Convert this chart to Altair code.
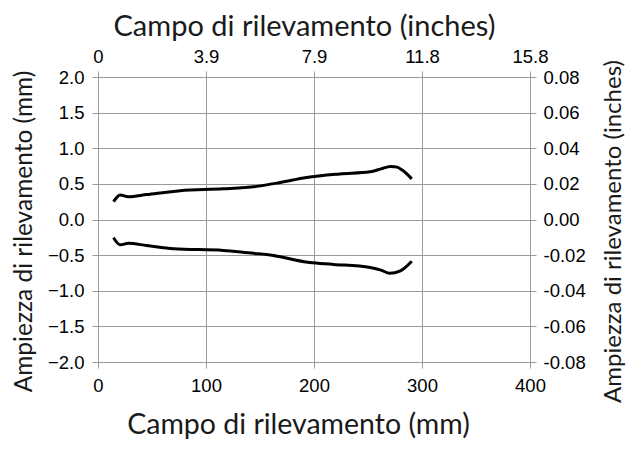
import altair as alt
import pandas as pd

# Upper envelope (mm)
upper_x = [14.4, 20.6, 28, 45, 76, 116, 147, 169, 193, 224, 252, 262, 271, 277, 282, 290.5]
upper_y = [0.25, 0.345, 0.32, 0.35, 0.405, 0.43, 0.465, 0.52, 0.59, 0.64, 0.67, 0.71, 0.745, 0.735, 0.69, 0.57]
# Lower envelope (mm)
lower_x = [14.4, 20.6, 28, 45, 70, 116, 144, 156, 196, 218, 252, 262, 270, 280, 290.5]
lower_y = [-0.255, -0.355, -0.335, -0.365, -0.41, -0.435, -0.475, -0.49, -0.605, -0.63, -0.675, -0.71, -0.755, -0.72, -0.585]

x_ticks = [0, 100, 200, 300, 400]
y_ticks = [-2.0, -1.5, -1.0, -0.5, 0.0, 0.5, 1.0, 1.5, 2.0]
top_labels = ["0", "3.9", "7.9", "11.8", "15.8"]
right_labels = ["-0.08", "-0.06", "-0.04", "-0.02", "0.00", "0.02", "0.04", "0.06", "0.08"]

up = pd.DataFrame({"x": upper_x, "y": upper_y})
lo = pd.DataFrame({"x": lower_x, "y": lower_y})


def mapexpr(vals, labels):
    e = "''"
    for v, l in zip(reversed(vals), reversed(labels)):
        e = f"abs(datum.value - ({v})) < 0.001 ? '{l}' : ({e})"
    return e


GRAY = "#9a9a9a"
LABEL_FONT = "Liberation Sans"
TITLE_FONT = "Lato"

common_axis = dict(
    domainColor=GRAY, tickColor=GRAY, gridColor=GRAY, gridWidth=1,
    tickSize=6, labelFont=LABEL_FONT, labelFontSize=18.5, labelColor="black",
    labelFlush=False,
    titleFont=TITLE_FONT, titleFontWeight="normal", titleColor="#1a1a1a",
    titleAlign="center",
)

xscale = alt.Scale(domain=[0, 400], nice=False, zero=False)
yscale = alt.Scale(domain=[-2, 2], nice=False)

upper = alt.Chart(up).mark_line(color="black", strokeWidth=3, interpolate="monotone").encode(
    x=alt.X("x:Q", scale=xscale, axis=alt.Axis(
        orient="bottom", values=x_ticks, format="d", grid=True, labelPadding=8,
        title="Campo di rilevamento (mm)", titleFontSize=28.5, titlePadding=16, titleX=200,
        **common_axis)),
    y=alt.Y("y:Q", scale=yscale, axis=alt.Axis(
        orient="left", values=y_ticks, format=".1f", grid=True, labelPadding=8,
        title="Ampiezza di rilevamento (mm)", titleFontSize=24.5, titlePadding=11, titleY=154,
        **common_axis)),
)

lower = alt.Chart(lo).mark_line(color="black", strokeWidth=3, interpolate="monotone").encode(
    x=alt.X("x:Q", scale=xscale, axis=alt.Axis(
        orient="top", values=x_ticks, labelExpr=mapexpr(x_ticks, top_labels), grid=False,
        labelPadding=5,
        title="Campo di rilevamento (inches)", titleFontSize=29, titlePadding=6, titleX=206,
        **common_axis)),
    y=alt.Y("y:Q", scale=yscale, axis=alt.Axis(
        orient="right", values=y_ticks, labelExpr=mapexpr(y_ticks, right_labels), grid=False,
        labelPadding=7,
        title="Ampiezza di rilevamento (inches)", titleFontSize=24, titlePadding=16,
        titleAngle=270, titleBaseline="top", titleY=154,
        **common_axis)),
)

chart = alt.layer(upper, lower).resolve_axis(x="independent", y="independent").properties(
    width=432, height=285,
    autosize=alt.AutoSizeParams(type="none"),
    padding={"left": 90, "top": 69, "right": 97, "bottom": 79},
).configure_view(stroke=None).configure(background="white")

chart.save("out.html", embed_options={"renderer": "svg", "actions": False})
